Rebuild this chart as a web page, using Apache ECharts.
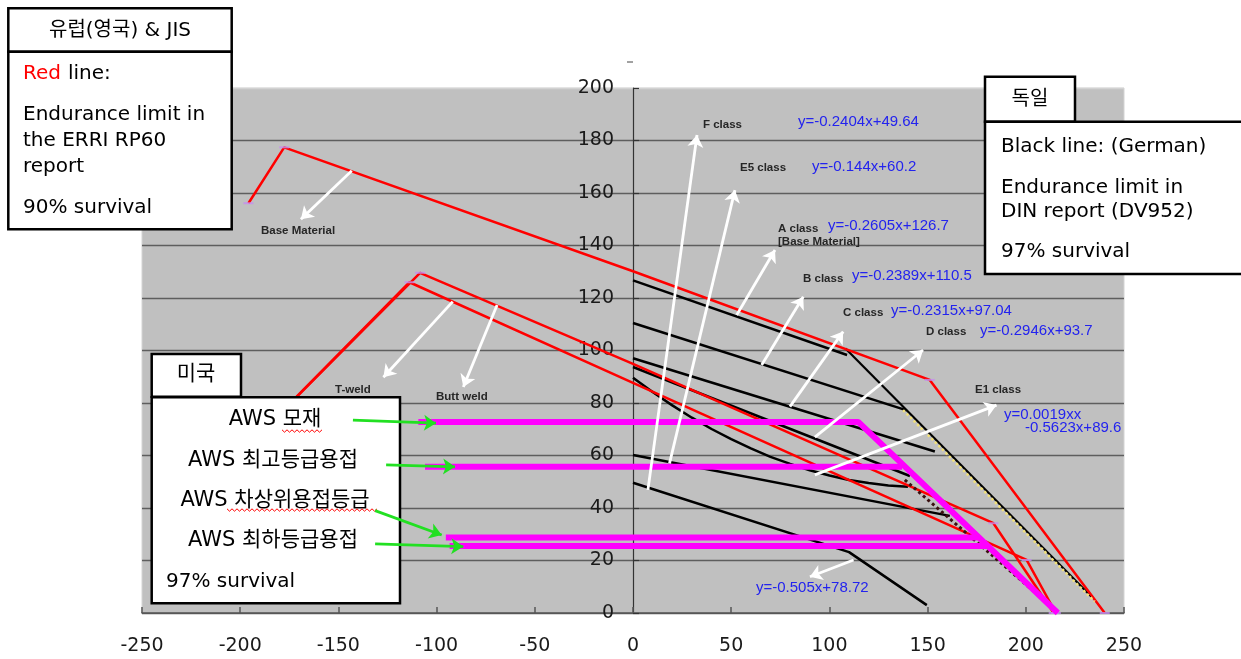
<!DOCTYPE html>
<html><head><meta charset="utf-8">
<script src="https://cdn.jsdelivr.net/npm/echarts/dist/echarts.min.js"></script>
<style>html,body{margin:0;padding:0;background:#fff}#c{width:1241px;height:659px}</style>
</head><body><div id="c"></div>
<script>
// ---- axis settings ----
const xMin = -250, xMax = 250, xStep = 50;
const yMin = 0, yMax = 200, yStep = 20;

// ---- red lines: ERRI RP60 endurance limits (90% survival) ----
const redBaseMaterial = [[-195.8,156.1],[-177.6,177.4],[0,130.2],[151.1,88.8],[240.2,0]];
const redTWeld       = [[-190,68.2],[-108.4,129.6],[0,94.9],[183.5,34.2],[214.2,0]];
const redButtWeld    = [[-190,68.2],[-113.8,126.0],[0,87.7],[200.4,20.2],[215.3,0]];
const redVertices    = [[-195.8,156.1],[-177.6,177.4],[151.1,88.8],[240.2,0],[-108.4,129.6],[-113.8,126.0],[183.5,34.2],[200.4,20.2],[214.2,0],[215.3,0]];

// ---- black lines: DIN DV952 (97% survival) ----
const dinA      = [[0,126.7],[109,98.3]];
const dinASteep = [[108.2,100.8],[234.1,5.7]];
const dinB      = [[0,110.5],[139.4,77.2]];
const dinBSteep = [[137.5,77.3],[235.1,4.3]];
const dinC      = [[0,97.04],[153.7,61.5]];
const dinD      = [[0,93.7],[141,52.2]];
const dinDSteep = [[138.4,50.7],[210.2,4.3]];
const dinE1     = [[0,89.6],[10,84.2],[20,79.1],[30,74.4],[40,70.1],[50,66.2],[60,62.7],[70,59.5],[80,56.8],[90,54.4],[100,52.4],[110,50.7],[120,49.5],[130,48.6],[140,48.1]];
const dinE5     = [[0,60.2],[161.3,37.0]];
const dinF      = [[0,49.64],[110,23.2],[149.6,3.0]];

// ---- magenta lines: AWS (97% survival) ----
const awsBase    = [[-109.3,72.8],[114.7,72.8],[216.3,0]];
const awsTop     = [[-105.9,55.7],[137,55.7]];
const awsSecond  = [[-95.3,28.8],[176,28.8]];
const awsLowest  = [[-93.4,25.5],[181,25.5]];

// ---- annotation arrows (data units): [x1,y1,x2,y2], head at (x2,y2) ----
const whiteArrows = [
  [-143.2,168.5,-169.1,150.0],
  [-91.8,118.6,-127.1,89.8],
  [-69.2,117.3,-86.4,86.1],
  [7.6,46.9,32.6,182.1],
  [18.6,57.0,51.9,161.1],
  [52.8,113.5,72.3,138.3],
  [65.5,94.5,86.7,120.5],
  [79.9,78.6,107.0,107.2],
  [92.6,67.0,147.7,100.2],
  [92.6,52.6,185.1,79.2],
  [112.3,20.2,90.1,13.8]
];
const greenArrows = [
  [-142.6,73.5,-100.3,72.3],
  [-125.7,56.4,-90.6,55.7],
  [-131.3,39.0,-97.4,29.7],
  [-131.3,26.3,-86.4,25.3]
];

const FONT = '"DejaVu Sans", "Noto Sans CJK KR", sans-serif';
const SMALL = '"Liberation Sans", Arial, sans-serif';

function ln(data, color, width, type, z) {
  return {type:'line', data:data, symbol:'none', showSymbol:false, silent:true,
    lineStyle:{color:color, width:width, type:type||'solid'}, z:z||3, animation:false};
}
function arrows(list, color, width, z) {
  return {type:'lines', coordinateSystem:'cartesian2d', silent:true, z:z, animation:false,
    symbol:['none','arrow'], symbolSize:12,
    lineStyle:{color:color, width:width, opacity:1},
    data:list.map(a => ({coords:[[a[0],a[1]],[a[2],a[3]]]}))};
}
function txt(text, x, y, o) {
  o = o || {};
  return {type:'text', z:o.z||30, x:x, y:y, silent:true, style:{
    text:text, fill:o.fill||'#000', font:o.font||('20px '+FONT),
    textAlign:o.align||'left', align:o.align||'left',
    textVerticalAlign:'middle', verticalAlign:'middle'}};
}
function box(x,y,w,h) {
  return {type:'rect', z:50, silent:true, shape:{x:x,y:y,width:w,height:h},
    style:{fill:'#fff', stroke:'#000', lineWidth:2.5}};
}
function wavy(x1,x2,y) {
  const pts=[]; let up=true;
  for (let x=x1; x<=x2; x+=2.5) { pts.push([x, y+(up?-1.2:1.2)]); up=!up; }
  return {type:'polyline', z:55, silent:true, shape:{points:pts}, style:{stroke:'#ff0000', lineWidth:1, fill:null}};
}
const lbl = (t,x,y) => txt(t,x,y,{font:'bold 11.5px '+SMALL, fill:'#262626', z:30});
const eq  = (t,x,y) => txt(t,x,y,{font:'15px '+SMALL, fill:'#2323ee', z:30});

const gridColors = ['#5e5e5e','#5e5e5e','#5e5e5e','#5e5e5e','#5e5e5e','#5e5e5e','#5e5e5e','#5e5e5e','#5e5e5e','#5e5e5e','#d2d2d2'];

const chart = echarts.init(document.getElementById('c'));
chart.setOption({
  animation:false,
  backgroundColor:'#fff',
  grid:{left:142, right:117, top:88, bottom:46, show:true, backgroundColor:'#c0c0c0', borderColor:'#d4d4d4', borderWidth:1},
  xAxis:{type:'value', min:xMin, max:xMax, interval:xStep,
    axisLine:{onZero:false, lineStyle:{color:'#555', width:1.5}},
    axisTick:{inside:true, length:6, lineStyle:{color:'#555', width:1.5}},
    axisLabel:{fontSize:19, fontFamily:FONT, color:'#1a1a1a', margin:24},
    splitLine:{show:false}},
  yAxis:{type:'value', min:yMin, max:yMax, interval:yStep, offset:-491,
    axisLine:{onZero:false, lineStyle:{color:'#333', width:1.2}},
    axisTick:{inside:true, length:6, lineStyle:{color:'#333', width:1.2}},
    axisLabel:{fontSize:19, fontFamily:FONT, color:'#1a1a1a', margin:19},
    splitLine:{show:true, lineStyle:{color:gridColors, width:1.3}}},
  series:[
    ln(dinA,'#000',2.5), ln(dinASteep,'#000',2.2), ln(dinB,'#000',2.5),
    ln(dinBSteep,'#f2e07a',2.5,'dotted',4),
    ln(dinC,'#000',2.5), ln(dinD,'#000',2.5),
    ln(dinDSteep,'#3a1010',3,'dotted',4),
    ln(dinE1,'#000',2.5), ln(dinE5,'#000',2.5), ln(dinF,'#000',2.5),
    ln(redBaseMaterial,'#ff0000',2.5), ln(redTWeld,'#ff0000',2.5), ln(redButtWeld,'#ff0000',2.5),
    {type:'scatter', data:redVertices, symbol:'rect', symbolSize:[10,2], silent:true, z:5,
      itemStyle:{color:'#c58cf0'}, animation:false},
    ln(awsBase,'#ff00ff',6,'solid',8), ln(awsTop,'#ff00ff',6,'solid',8),
    ln(awsSecond,'#ff00ff',6,'solid',8), ln(awsLowest,'#ff00ff',6,'solid',8),
    arrows(whiteArrows,'#ffffff',2.8,20),
    arrows(greenArrows,'#22e022',2.8,60)
  ],
  graphic:[
    // Europe box
    box(8.3,8.3,223.4,43.4), box(8.3,51.7,223.4,177.6),
    txt('유럽(영국) & JIS',120,31,{align:'center', z:51}),
    txt('Red',23,74,{fill:'#ff0000', z:51}), txt('line:',68,74,{z:51}),
    txt('Endurance limit in',23,115,{z:51}),
    txt('the ERRI RP60',23,141,{z:51}),
    txt('report',23,167,{z:51}),
    txt('90% survival',23,208,{z:51}),
    // Germany box
    box(985,76.7,90,45), box(985,121.7,270,152.3),
    txt('독일',1030,100,{align:'center', z:51}),
    txt('Black line: (German)',1001,147,{z:51}),
    txt('Endurance limit in',1001,188,{z:51}),
    txt('DIN report (DV952)',1001,212,{z:51}),
    txt('97% survival',1001,252,{z:51}),
    // USA box
    box(151.7,354,89.3,42.7), box(151.7,397.3,248.3,206),
    txt('미국',196,375,{align:'center', z:51, font:'21px '+FONT}),
    txt('AWS 모재',275,420,{align:'center', z:51, font:'21px '+FONT}),
    txt('AWS 최고등급용접',273,461,{align:'center', z:51, font:'21px '+FONT}),
    txt('AWS 차상위용접등급',275,501,{align:'center', z:51, font:'21px '+FONT}),
    txt('AWS 최하등급용접',273,541,{align:'center', z:51, font:'21px '+FONT}),
    txt('97% survival',166,582,{z:51}),
    wavy(282,323,431), wavy(227,378,510),
    // line labels
    lbl('Base Material',261,231), lbl('T-weld',335,390), lbl('Butt weld',436,397),
    lbl('F class',703,125), lbl('E5 class',740,168),
    lbl('A class',778,229), lbl('[Base Material]',778,242),
    lbl('B class',803,279), lbl('C class',843,313), lbl('D class',926,332),
    lbl('E1 class',975,390),
    eq('y=-0.2404x+49.64',798,122), eq('y=-0.144x+60.2',812,167),
    eq('y=-0.2605x+126.7',828,226), eq('y=-0.2389x+110.5',852,276),
    eq('y=-0.2315x+97.04',891,311), eq('y=-0.2946x+93.7',980,331),
    eq('y=0.0019xx',1004,415), eq('-0.5623x+89.6',1025,428),
    eq('y=-0.505x+78.72',756,588),
    {type:'line', z:30, silent:true, shape:{x1:627,y1:62,x2:633,y2:62}, style:{stroke:'#444', lineWidth:1}}
  ]
});
</script></body></html>
